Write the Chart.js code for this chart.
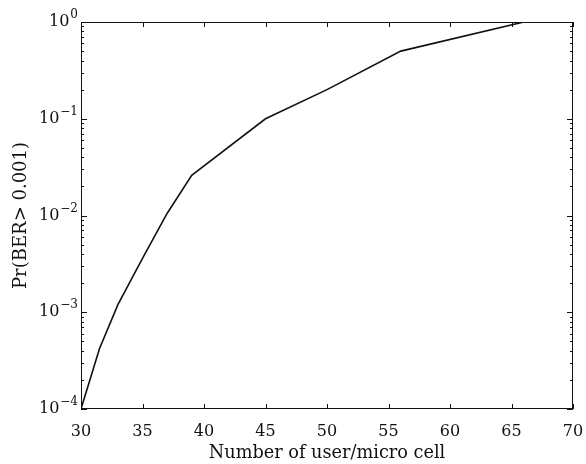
<!DOCTYPE html>
<html>
<head>
<meta charset="utf-8">
<script src="https://cdn.jsdelivr.net/npm/chart.js@4/dist/chart.umd.min.js"></script>
<style>
  html, body { margin: 0; padding: 0; background: #fff; }
  #wrap { width: 586px; height: 464px; }
</style>
</head>
<body>
<div id="wrap"><canvas id="chart" width="586" height="464"></canvas></div>
<script>
// data
const users = [30, 31.5, 33, 35, 37, 39, 45, 50, 56, 66];
const prBer = [1e-4, 4.2e-4, 1.2e-3, 3.6e-3, 1.05e-2, 2.6e-2, 1.0e-1, 2.0e-1, 5.0e-1, 1.0];

const xTicks = [30, 35, 40, 45, 50, 55, 60, 65, 70];
const yExponents = [-4, -3, -2, -1, 0];

const FONT = '"DejaVu Serif", "Liberation Serif", serif';

// box, inward ticks and 10^n labels
const framePlugin = {
    id: 'frame',
    afterDraw(chart) {
        const ctx = chart.ctx;
        const area = chart.chartArea;
        const xs = chart.scales.x;
        const ys = chart.scales.y;
        ctx.save();
        ctx.strokeStyle = '#111';
        ctx.lineWidth = 1;
        ctx.strokeRect(area.left + 0.5, area.top + 0.5, area.right - area.left - 1, area.bottom - area.top - 1);

        ctx.beginPath();
        xTicks.forEach(v => {
            const px = Math.round(xs.getPixelForValue(v)) + 0.5;
            ctx.moveTo(px, area.bottom); ctx.lineTo(px, area.bottom - 5);
            ctx.moveTo(px, area.top); ctx.lineTo(px, area.top + 5);
        });
        yExponents.forEach(e => {
            for (let m = 1; m < 10; m++) {
                if (e === 0 && m > 1) break;
                const py = Math.round(ys.getPixelForValue(m * Math.pow(10, e))) + 0.5;
                const len = m === 1 ? 6 : 3;
                ctx.moveTo(area.left, py); ctx.lineTo(area.left + len, py);
                ctx.moveTo(area.right, py); ctx.lineTo(area.right - len, py);
            }
        });
        ctx.stroke();

        // y tick labels with real superscripts
        ctx.fillStyle = '#111';
        ctx.textBaseline = 'alphabetic';
        ctx.textAlign = 'right';
        yExponents.forEach(e => {
            const py = ys.getPixelForValue(Math.pow(10, e));
            const expText = e < 0 ? '\u2212' + Math.abs(e) : String(e);
            ctx.font = '12px ' + FONT;
            const expW = ctx.measureText(expText).width;
            const xr = area.left - 3;
            ctx.fillText(expText, xr, py - 4);
            ctx.font = '16px ' + FONT;
            ctx.fillText('10', xr - expW - 1, py + 4);
        });
        ctx.restore();
    }
};

new Chart(document.getElementById('chart'), {
    type: 'line',
    data: {
        datasets: [{
            data: users.map((u, i) => ({ x: u, y: prBer[i] })),
            borderColor: '#111',
            borderWidth: 1.6,
            pointRadius: 0,
            fill: false,
            tension: 0
        }]
    },
    options: {
        responsive: false,
        animation: false,
        layout: { padding: { left: 0, top: 22, right: 13, bottom: 0 } },
        plugins: { legend: { display: false }, tooltip: { enabled: false } },
        scales: {
            x: {
                type: 'linear',
                min: 30,
                max: 70,
                afterBuildTicks: scale => { scale.ticks = xTicks.map(v => ({ value: v })); },
                afterFit: scale => {
                    scale.height = 55;
                    scale.paddingLeft = 0;
                    scale.paddingRight = 0;
                },
                grid: { display: false },
                border: { display: false },
                ticks: {
                    color: '#111',
                    font: { family: FONT, size: 16 },
                    padding: 5,
                    maxRotation: 0
                },
                title: {
                    display: true,
                    text: 'Number of user/micro cell',
                    color: '#111',
                    font: { family: FONT, size: 17.7 },
                    padding: { top: 2, bottom: 0 }
                }
            },
            y: {
                type: 'logarithmic',
                min: 1e-4,
                max: 1,
                afterBuildTicks: scale => { scale.ticks = yExponents.map(e => ({ value: Math.pow(10, e) })); },
                afterFit: scale => {
                    scale.width = 81;
                    scale.paddingTop = 0;
                    scale.paddingBottom = 0;
                },
                grid: { display: false },
                border: { display: false },
                ticks: { display: false },
                title: {
                    display: true,
                    text: 'Pr(BER> 0.001)',
                    color: '#111',
                    font: { family: FONT, size: 18 },
                    padding: { top: 11, bottom: 0 }
                }
            }
        }
    },
    plugins: [framePlugin]
});
</script>
</body>
</html>
